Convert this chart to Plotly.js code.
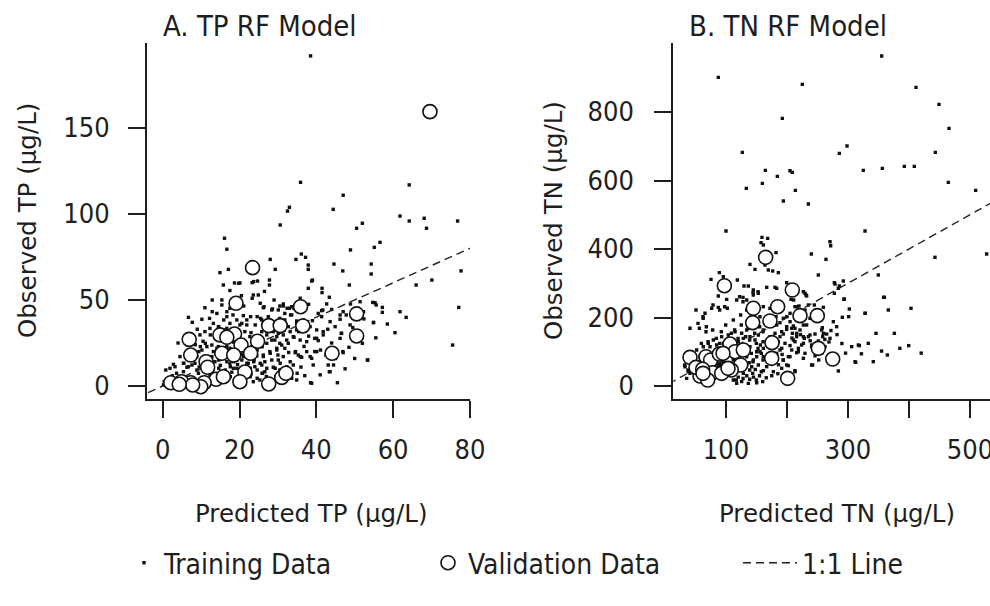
<!DOCTYPE html>
<html>
<head>
<meta charset="utf-8">
<script src="https://cdn.plot.ly/plotly-3.0.1.min.js"></script>
<style>html,body{margin:0;padding:0;background:#fff;}#chart{width:990px;height:606px;}</style>
</head>
<body>
<div id="chart"></div>
<script>
// ---------- DATA ----------
// Panel A: TP (µg/L), [predicted, observed]
var tpTraining = [
[38.5,191.9],[35.9,118.4],[64.2,116.9],[47.0,110.9],[33.0,103.9],[32.5,101.7],[44.4,102.7],[61.8,98.8],[68.1,97.5],
[64.2,95.9],[68.7,91.7],[76.8,95.9],[52.0,94.6],[50.5,91.7],[30.6,93.6],[16.1,85.9],[16.7,79.5],[36.1,76.7],[37.2,74.8],[48.9,79.1],[56.6,83.5],[55.1,80.6],[28.0,73.6],[34.7,73.6],[37.9,70.3],[37.9,67.8],[44.6,70.9],[46.9,66.9],[54.3,70.9],[54.3,65.1],[77.7,66.9],[14.9,65.9],[17.1,67.8],[29.3,67.8],[23.3,60.1],[24.7,61.0],[18.7,59.9],[20.1,59.9],[15.8,58.7],[27.8,61.6],[27.8,58.7],[39.0,61.6],[41.5,56.8],[48.6,58.7],[66.0,58.7],[70.1,61.6],[41.5,54.3],[37.9,56.8],[23.6,52.9],[24.9,52.9],[12.9,50.0],[15.4,50.0],[35.8,51.0],[43.4,51.6],[51.4,49.0],[54.7,48.6],[55.6,47.1],[57.2,45.7],[57.2,42.8],[61.8,43.2],[63.4,39.9],[77.1,45.7],[75.5,23.8],[53.3,15.1],[45.5,1.9],[38.5,1.9],[41.7,44.2],[46.2,41.3],[47.8,41.3],[46.5,30.6],[52.4,39.0],[54.9,37.0],[52.0,24.8],[46.9,20.0],[44.5,12.2],[43.4,8.3],[39.2,12.2],[38.4,17.1],[40.1,27.7],[41.8,29.7],[40.1,20.0],[37.5,20.0],[34.6,20.0],[35.8,17.1],[6.7,39.9],[7.7,37.0],[12.2,39.3],[12.9,43.2],[14.1,42.2],[16.7,40.3],[17.5,45.2],[21.0,40.9],[21.9,38.4],[22.9,40.3],[24.6,40.3],[25.5,39.3],[26.2,45.5],[28.6,44.8],[30.1,44.2],[31.4,46.5],[33.0,45.2],[34.2,45.2],[33.3,41.3],[34.9,37.8],[36.6,38.4],
[38.8,61.0],[26.4,46.1],[28.4,44.2],[30.5,46.5],[31.4,47.7],[32.4,45.2],[33.6,46.1],[31.8,42.2],[33.6,41.3],[30.5,39.3],[31.8,38.4],[40.5,42.2],[41.4,43.8],[42.7,47.7],[47.0,43.2],[48.9,47.7],[52.3,43.2],[55.3,48.4],[54.9,36.8],[46.2,38.8],[38.4,34.5],[41.8,31.6],[39.6,27.7],[40.5,26.4],[37.5,25.8],[35.8,26.7],[34.2,28.3],[35.4,31.6],[34.9,36.4],[32.7,34.5],[46.6,30.6],[41.1,20.9],[39.6,20.0],[35.3,18.0],[36.2,16.7],[34.5,19.4],[38.8,16.1],[43.1,12.2],[47.0,19.4],[53.4,15.1],[38.8,1.6],[43.6,8.3],
[25.8,38.4],[27.5,40.3],[27.9,34.5],[29.7,36.4],[28.8,31.6],[30.1,30.6],[31.4,32.6],[29.2,26.7],[30.5,24.8],[32.7,24.8],[31.8,21.9],[29.7,20.9],[27.9,20.0],[26.2,18.0],[26.6,14.1],[28.4,15.1],[30.1,15.1],[31.4,17.1],[33.2,14.1],[34.0,12.2],[27.1,10.3],[28.8,10.9],[26.0,7.4],[30.5,9.3],[32.3,6.4],[35.0,7.4],[26.6,3.5],[28.8,1.6],[33.6,4.5],
[19.8,59.7],[23.7,60.7],[23.3,51.0],[15.4,47.1],[21.1,46.5],[25.4,48.1],[16.7,43.2],[18.3,41.3],[10.2,38.8],[15.9,38.4],[19.3,38.4],[20.6,36.4],[21.9,35.5],[24.1,35.5],[14.6,34.5],[16.3,32.6],[18.0,32.9],[12.4,29.7],[13.7,27.7],[11.1,24.8],[12.8,23.8],[9.8,22.9],[14.1,21.9],[16.7,22.9],[17.6,20.9],[19.8,22.9],[22.0,21.9],[24.6,20.9],[25.9,22.9],[9.4,20.0],[10.7,17.1],[12.8,17.1],[14.6,15.1],[16.7,14.1],[18.5,14.1],[20.6,15.1],[21.9,13.2],[23.7,14.1],[25.4,13.2],[5.5,13.2],[6.3,10.9],[7.6,12.2],[8.9,9.3],[14.6,10.3],[16.3,9.3],[17.6,11.2],[19.3,10.3],[22.8,10.3],[24.6,9.3],[25.9,7.4],[22.8,5.4],[24.6,4.5],[17.6,5.4],[0.8,9.3],[1.1,3.5],[0.4,2.5],[3.3,3.5],[5.5,2.5],[15.9,3.5],[0.2,0.6],
[2.8,12.6],[1.9,10.3],[3.6,7.4],[5.4,8.3],[6.7,11.2],[8.4,13.2],[9.3,7.4],[12.3,6.4],[16.7,7.4],[17.5,13.2],[18.4,10.3],[19.3,15.1],[21.0,17.1],[22.3,13.2],[24.0,11.2],[25.8,12.2],[26.6,8.3],[25.3,3.5],[23.6,2.5],[29.3,10.3],[30.6,13.2],[32.3,11.2],[33.6,7.4],[34.9,3.5],[10.2,20.9],[11.5,22.9],[13.2,20.0],[14.5,22.9],[17.5,21.9],[19.3,20.9],[21.4,21.9],[23.2,22.9],[25.8,22.9],[27.1,24.8],[28.4,26.7],[29.7,28.7],[31.4,29.7],[33.2,31.6],[34.9,32.6],[34.0,28.7],[32.3,26.7],[31.0,23.8],[29.7,21.9],[28.0,19.0],[26.2,17.1],[23.8,15.1],[9.7,29.7],[11.0,31.6],[12.3,33.5],[13.2,36.4],[14.5,34.5],[16.7,33.5],[17.5,36.4],[20.1,35.5],[21.4,31.6],[22.7,28.7],[25.8,31.6],[27.1,29.7],[8.9,17.1],[10.2,15.1],[13.6,14.1],[17.5,17.1],[18.4,19.0],[4.5,17.1],[5.4,13.2],[3.2,11.2],[0.9,1.6],
[46.2,27.7],[40.1,32.6],[41.4,40.3],[43.6,37.4],[44.9,34.5],[48.8,35.5],
[11.0,5.0],[13.0,8.5],[15.0,12.0],[18.0,8.0],[20.0,6.0],[21.5,10.5],[23.0,7.0],[19.5,12.5],[16.0,16.5],[14.0,18.5],[20.5,18.5],[22.5,16.0],[24.5,17.5],[18.5,25.5],[20.0,27.0],[16.0,26.0],[14.0,27.5],[21.0,24.5],[23.5,25.0],[25.0,27.0],[17.0,29.0],[19.0,31.0],[23.0,31.0],[15.5,30.5],[10.5,26.0],[8.5,24.0],[7.0,21.0],[6.0,18.5],[9.5,11.0],[11.5,10.0],[27.0,5.5],[29.5,4.5],[31.5,8.0],[30.0,18.0],[32.8,19.5],[36.8,23.0],[38.0,29.0],[36.5,33.5],[39.0,38.0],[43.0,33.0],[44.0,25.0],[42.5,18.0],[45.0,16.0],[48.5,22.5],[50.0,27.5],[49.5,34.0],[58.5,36.0],[50.0,16.0],[36.0,11.0],[37.0,6.0],[41.0,6.5],[47.5,10.0],[55.5,28.0],[60.5,31.0],[44.0,44.5],[38.0,47.5],[29.0,50.0],[26.5,55.0],[20.5,52.5],[17.5,55.5],[11.0,45.5],[9.0,33.0],[4.0,25.0],[2.5,6.0],[7.5,4.5],[12.5,2.0],[19.0,2.5],[21.5,4.0],[31.0,2.0]
];
var tpValidation = [
[23.4,68.8],[19.1,48.1],[35.9,46.1],[50.5,41.9],[50.5,29.1],[36.5,34.9],[27.6,35.1],[30.6,35.1],[18.7,30.2],[14.9,29.7],[16.7,28.3],[6.9,27.1],[20.4,23.8],[24.7,26.0],[7.3,18.0],[15.4,19.0],[22.9,19.0],[44.1,19.0],[11.3,14.1],[11.7,10.9],[21.4,8.1],[13.9,3.9],[10.8,1.9],[7.3,1.9],[4.9,2.5],[2.1,1.9],[9.9,-0.4],[7.8,0.6],[4.3,1.0],[20.1,2.5],[27.6,1.2],[31.0,5.0],[32.1,7.4],[15.8,5.4],[69.6,159.5],[18.5,18.0]
];
// Panel B: TN (µg/L), [predicted, observed]
var tnTraining = [
[87.4,901.2],[355.2,963.5],[225.1,880.8],[411.5,872.0],[449.2,822.4],[192.3,781.5],[465.6,752.3],[126.8,682.2],[285.8,679.3],[298.4,700.7],[443.2,682.2],[164.5,629.7],[204.9,628.7],[208.7,623.8],[325.1,629.7],[356.3,635.5],[392.3,641.4],[408.7,641.4],[184.2,612.2],[159.6,591.7],[464.5,594.6],[133.3,577.1],[213.7,571.3],[509.3,571.3],[194.0,540.1],[235.0,531.4],
[100.0,452.6],[327.9,452.6],[159.0,434.1],[168.3,431.1],[157.4,418.5],[161.2,411.7],[182.0,389.3],[270.5,421.4],[271.6,409.7],[239.9,385.4],[527.3,385.4],[442.6,375.7],[263.9,369.8],[139.3,355.2],[147.5,340.6],[163.9,353.3],[169.4,338.7],[176.5,335.8],[185.8,330.9],[89.1,330.9],[95.6,319.2],[75.4,311.4],[251.4,324.1],[349.7,324.1],[277.6,301.7],[285.8,292.0],[292.3,306.6],[118.6,309.5],[129.5,292.0],[136.6,292.0],[144.8,280.3],[153.0,270.6],[166.7,288.1],[180.3,288.1],[144.8,265.7],[127.9,258.9],[87.4,262.8],[101.1,253.0],[117.5,251.1],[133.9,251.1],[199.5,301.7],[205.0,292.0],[226.8,275.4],[231.1,265.7],[210.9,251.1],[359.6,258.9],[294.0,254.0],[366.1,221.9],[403.3,226.8],[302.2,224.8],[328.4,212.2],[301.1,202.4],[290.7,200.5],[50.8,221.9],[65.6,212.2],[62.6,197.6],[76.5,226.8],[87.4,229.7],[102.2,226.8],[41.0,168.4],[56.3,168.4],[67.2,158.6],[78.1,163.5],[99.5,178.1],[112.0,192.7],[124.0,207.3],[133.9,221.9],[150.3,236.5],[161.2,231.6],[172.1,226.8],[259.6,229.7],[248.6,212.2],[237.7,197.6],[226.8,178.1],[207.7,168.4],[215.8,153.8],[226.8,144.0],[237.7,148.9],[257.9,170.3],[259.6,153.8],[265.0,151.8],[258.5,144.0],[281.4,173.2],[276.0,187.8],[306.0,114.8],[318.6,117.8],[333.3,124.6],[345.9,153.8],[376.0,153.8],[399.5,117.8],[364.5,90.5],[341.5,71.0],[312.6,69.1],[284.2,43.8],[242.1,61.3],[213.1,41.8],[202.2,59.4],[194.0,75.9],[183.1,95.4],[204.9,85.6],[218.6,100.2],[226.8,124.6],[210.4,134.3],[196.7,124.6],[188.5,144.0],[180.3,153.8],[191.3,158.6],[199.5,173.2],[240.4,114.8],[229.5,95.4],[248.6,105.1],[256.8,95.4],[262.3,114.8],[270.5,80.8],[117.5,7.8],[136.6,7.8],[150.3,9.7],[160.1,12.7],[125.7,12.7],[143.7,37.0],[161.2,44.8],[166.7,56.4],[153.0,61.3],[144.8,75.9],[133.9,85.6],[122.5,95.4],[117.5,80.8],[106.6,110.0],[120.2,129.4],[128.4,139.2],[139.3,144.0],[147.5,134.3],[156.3,119.7],[161.2,110.0],[174.9,114.8],[180.3,129.4],[191.3,110.0],[139.3,114.8],[150.3,100.2],[161.2,85.6],[174.9,66.2],[177.6,41.8],[191.3,51.6],[133.9,163.5],[125.7,153.8],[114.8,158.6],[103.8,148.9],[92.9,144.0],[79.2,134.3],[71.0,124.6],[62.8,114.8],[51.9,105.1],[43.7,100.2],[35.5,90.5],[32.8,56.4],[38.3,41.8],[46.4,66.2],[57.4,85.6],[68.3,100.2],[73.8,114.8],[84.7,119.7],[95.6,124.6],[92.9,100.2],[101.1,85.6],[112.0,75.9],[87.4,61.3],[90.2,66.2],[95.6,71.0],[106.6,56.4],[120.2,46.7],[128.4,37.0],[112.0,17.5],[95.6,27.3],[81.9,37.0],[68.3,27.3],[41.0,37.0],[35.5,22.4],[133.9,61.3],[142.1,56.4],[150.3,85.6],[155.7,100.2],[166.7,124.6],[172.1,144.0],[161.2,163.5],[153.0,148.9],[144.8,182.9],[155.7,202.4],[183.1,178.1],[194.0,197.6],[205.0,212.2],[215.8,231.6],[229.5,221.9],[117.5,124.6],
[278.7,297.8],[284.1,285.2],[293.3,253.0],[277.6,270.6],[358.4,258.9],[327.9,212.2],[244.8,236.5],[235.0,236.5],[229.5,270.6],[232.2,262.8],[206.6,253.0],[183.1,285.2],[182.0,202.4],[188.5,184.9],[199.5,202.4],[205.0,187.8],[213.1,231.6],[219.7,233.6],[210.4,175.2],[213.1,168.4],[221.3,163.5],[232.2,178.1],[194.0,151.8],[199.5,165.4],[208.8,153.8],[215.8,144.0],[228.4,139.2],[235.0,144.0],[245.9,151.8],[256.8,163.5],[270.5,139.2],[251.4,131.4],[240.4,119.7],[224.0,119.7],[213.1,129.4],[218.6,110.0],[207.7,105.1],[185.8,129.4],[188.5,105.1],[202.2,85.6],[215.8,97.3],[226.8,80.8],[193.8,75.9],[199.5,61.3],[213.1,44.8],[240.4,61.3],[317.0,119.7],[311.5,71.0],[268.8,128.5],
[95.1,280.3],[144.3,272.5],[152.5,275.4],[122.4,260.8],[127.9,246.2],[78.7,236.5],[97.8,231.6],[89.6,221.9],[62.3,202.4],[54.1,182.9],[67.8,173.2],[92.3,158.6],[108.7,153.8],[114.2,163.5],[125.1,178.1],[136.1,168.4],[155.2,173.2],[160.7,158.6],[147.0,153.8],[132.2,144.0],[119.7,139.2],[103.3,136.3],[84.2,139.2],[70.5,129.4],[59.6,124.6],[89.6,124.6],[138.8,134.3],[149.7,124.6],[160.7,129.4],[152.5,110.0],[141.5,95.4],[157.9,95.4],[144.3,71.0],[160.7,75.9],[138.8,46.7],[157.9,41.8],[35.0,80.8],[32.2,61.3],[37.7,46.7],[116.9,17.5],[138.8,19.5],[149.7,17.5],[92.3,75.9],
[82,58],[85,70],[88,52],[93,58],[97,64],[100,52],[78,66],[84,80],[98,82],[104,68],[110,62],[115,88],[108,96],[96,92],[86,94],[76,90],[70,76],[65,62],[60,48],[74,52],[104,40],[112,32],[120,26],[128,22],[134,30],[145,26],[155,30],[166,24],[175,30],[185,36],[120,110],[130,100],[125,72],[138,68],[148,48],[168,70],[172,92],[180,82],[186,62],[192,92],[205,118],[208,140],[222,150],[238,132],[246,88],[252,76],[262,136],[272,162],[282,150],[290,124],[296,96],[322,94],[355,102],[385,110],[420,96]
];
var tnValidation = [
[165.0,375.7],[97.3,292.9],[208.7,280.3],[144.8,226.8],[184.7,231.6],[143.7,184.9],[172.1,189.8],[221.3,205.4],[249.7,205.4],[175.4,126.5],[251.4,110.0],[174.9,80.8],[274.9,78.8],[201.1,22.4],[41.0,83.7],[67.2,85.6],[74.9,75.9],[89.1,93.4],[106.6,122.6],[114.8,100.2],[128.4,105.1],[124.0,61.3],[108.7,46.7],[78.1,38.9],[57.4,29.2],[50.8,54.5],[61.7,48.7],[92.9,37.0],[70.0,17.5],[95.1,95.4],[62.3,37.0],[103.3,51.6]
];
// 1:1 reference line end points (observed = predicted)
var oneToOneTP = [-10, 100];
var oneToOneTN = [-50, 600];
// tick labels
var tpXTicks = [0, 20, 40, 60, 80];
var tpYTicks = [0, 50, 100, 150];
var tnXTicks = [100, 200, 300, 400, 500];
var tnXTickText = ['100', '', '300', '', '500'];
var tnYTicks = [0, 200, 400, 600, 800];
var panelTitles = ['A. TP RF Model', 'B. TN RF Model'];
var xTitles = ['Predicted TP (\u00b5g/L)', 'Predicted TN (\u00b5g/L)'];
var yTitles = ['Observed TP (\u00b5g/L)', 'Observed TN (\u00b5g/L)'];
var seriesNames = ['Training Data', 'Validation Data', '1:1 Line'];

// ---------- HELPERS ----------
var W = 990, H = 606;
function px(x) { return x / W; }
function py(y) { return 1 - y / H; }
function col(arr, i) { return arr.map(function (p) { return p[i]; }); }

var INK = '#1e1e1e';
var tickFont = { family: 'DejaVu Sans Condensed, DejaVu Sans, sans-serif', size: 27, color: INK };
var titleFont = { family: 'DejaVu Sans, sans-serif', size: 24.5, color: INK };
var panelFont = { family: 'DejaVu Sans Condensed, DejaVu Sans, sans-serif', size: 29, color: INK };
var legendFont = { family: 'Liberation Sans Narrow, DejaVu Sans Condensed, sans-serif', size: 28, color: INK };

function trainTrace(d, xa, ya, show) {
  return { type: 'scatter', mode: 'markers', x: col(d, 0), y: col(d, 1), xaxis: xa, yaxis: ya,
    name: seriesNames[0], showlegend: show, legend: 'legend', legendgroup: 'train',
    marker: { symbol: 'square', size: 3.4, color: '#111', line: { width: 0 } }, hoverinfo: 'x+y' };
}
function valTrace(d, xa, ya, show) {
  return { type: 'scatter', mode: 'markers', x: col(d, 0), y: col(d, 1), xaxis: xa, yaxis: ya,
    name: seriesNames[1], showlegend: show, legend: 'legend2', legendgroup: 'val',
    marker: { symbol: 'circle', size: 14, color: '#ffffff', line: { width: 1.6, color: '#111' } }, hoverinfo: 'x+y' };
}
function lineTrace(d, xa, ya, show) {
  return { type: 'scatter', mode: 'lines', x: d, y: d, xaxis: xa, yaxis: ya,
    name: seriesNames[2], showlegend: show, legend: 'legend3', legendgroup: 'line',
    line: { color: '#222', width: 1.4, dash: '8px,5px' }, hoverinfo: 'skip' };
}

var data = [
  trainTrace(tpTraining, 'x', 'y', true),
  lineTrace(oneToOneTP, 'x', 'y', true),
  valTrace(tpValidation, 'x', 'y', true),
  trainTrace(tnTraining, 'x2', 'y2', false),
  lineTrace(oneToOneTN, 'x2', 'y2', false),
  valTrace(tnValidation, 'x2', 'y2', false)
];

function axisBase() {
  return { showgrid: false, zeroline: false, showline: true, linecolor: INK, linewidth: 2,
    ticks: 'outside', ticklen: 17, tickwidth: 1.5, tickcolor: INK, tickfont: tickFont,
    ticklabeloverflow: 'allow', fixedrange: true };
}

var xa1 = Object.assign(axisBase(), { domain: [px(147), px(470)], range: [-4.09, 80.03], anchor: 'y',
  tickmode: 'array', tickvals: tpXTicks, ticktext: tpXTicks.map(String), ticklabelstandoff: 9 });
var ya1 = Object.assign(axisBase(), { domain: [py(399), py(43)], range: [-7.56, 199.4], anchor: 'x',
  tickmode: 'array', tickvals: tpYTicks, ticktext: tpYTicks.map(String), ticklabelstandoff: 13 });
var xa2 = Object.assign(axisBase(), { domain: [px(673.3), 1], range: [13.6, 532.8], anchor: 'y2',
  tickmode: 'array', tickvals: tnXTicks, ticktext: tnXTickText, ticklabelstandoff: 9 });
var ya2 = Object.assign(axisBase(), { domain: [py(399), py(43)], range: [-37.96, 1001.5], anchor: 'x2',
  tickmode: 'array', tickvals: tnYTicks, ticktext: tnYTicks.map(String), ticklabelstandoff: 15 });

function ann(text, x, y, font, opts) {
  return Object.assign({ text: text, x: px(x), y: py(y), xref: 'paper', yref: 'paper',
    showarrow: false, font: font, xanchor: 'center', yanchor: 'middle' }, opts || {});
}

var annotations = [
  ann(panelTitles[0], 161, 26, panelFont, { xanchor: 'left' }),
  ann(panelTitles[1], 687, 26, panelFont, { xanchor: 'left' }),
  ann(xTitles[0], 311, 513, titleFont),
  ann(xTitles[1], 837, 513, titleFont),
  ann(yTitles[0], 27, 221, titleFont, { textangle: -90 }),
  ann(yTitles[1], 553, 221, titleFont, { textangle: -90 })
];

function legendAt(x, y, extra) {
  return Object.assign({ orientation: 'h', x: px(x), y: py(y), xanchor: 'left', yanchor: 'middle',
    font: legendFont, bgcolor: 'rgba(0,0,0,0)', borderwidth: 0 }, extra || {});
}

var layout = {
  width: W, height: H,
  margin: { l: 0, r: 0, t: 0, b: 0, pad: 0 },
  paper_bgcolor: '#ffffff', plot_bgcolor: '#ffffff',
  showlegend: true,
  xaxis: xa1, yaxis: ya1, xaxis2: xa2, yaxis2: ya2,
  annotations: annotations,
  legend: legendAt(124, 563),
  legend2: legendAt(428, 563),
  legend3: legendAt(738, 563, { itemwidth: 54 })
};

Plotly.newPlot('chart', data, layout, { displayModeBar: false });
</script>
</body>
</html>
